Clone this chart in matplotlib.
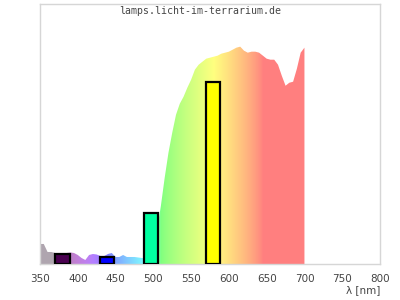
"""Lamp spectrum with peak bars, drawn in wavelength colours."""

import matplotlib

matplotlib.use("Agg")
import matplotlib.pyplot as plt
import numpy as np


# spectrum (relative height, 0..260)
wavelengths = list(range(350, 705, 5))
intensity = [
    20, 20, 12, 12, 11, 11, 11, 11, 11.5, 11,
    9, 6, 4, 9, 10, 9.5, 8, 8, 10, 11,
    7, 7, 9, 7, 7, 7, 6.5, 6, 6, 10,
    18, 35, 58, 86, 111, 131, 149, 160, 167, 176,
    184, 194, 199, 202, 205, 206, 207, 208, 210, 211,
    212, 214, 216, 217, 213, 211, 212, 212, 211, 208,
    205, 204, 204, 199, 188, 178, 181, 182, 195, 211,
    216,
]

# peak bars
peak_wl = [380, 439, 497, 579]
peak_height = [9.7, 7.3, 51, 182]
peak_colors = ["#4a0050", "#0000ff", "#00ffa0", "#ffff00"]

x_ticks = list(range(350, 850, 50))


def wavelength_rgb(wl: float) -> tuple[float, float, float]:
    """Approximate RGB for a wavelength (Bruton style), lightened with white."""
    if wl < 380:
        r, g, b = 0.38, 0.30, 0.38
    else:
        if wl < 440:
            r, g, b = (440 - wl) / 60, 0.0, 1.0
        elif wl < 490:
            r, g, b = 0.0, (wl - 440) / 50, 1.0
        elif wl < 510:
            r, g, b = 0.0, 1.0, (510 - wl) / 20
        elif wl < 580:
            r, g, b = (wl - 510) / 70, 1.0, 0.0
        elif wl < 645:
            r, g, b = 1.0, (645 - wl) / 65, 0.0
        else:
            r, g, b = 1.0, 0.0, 0.0
        factor = 0.3 + 0.7 * (wl - 380) / 40 if wl < 420 else 1.0
        r, g, b = ((c * factor) ** 0.8 if c > 0 else 0.0 for c in (r, g, b))
    return (0.5 + 0.5 * r, 0.5 + 0.5 * g, 0.5 + 0.5 * b)


fig = plt.figure(figsize=(4, 3), dpi=100)
ax = fig.add_axes((0.1, 0.12, 0.85, 0.868))

wl_fine = np.arange(wavelengths[0], wavelengths[-1] + 1, 1.0)
gradient = np.array([[wavelength_rgb(w) for w in wl_fine]])

poly = ax.fill_between(wavelengths, 0, intensity, color="none", linewidth=0)
img = ax.imshow(
    gradient,
    extent=(wavelengths[0], wavelengths[-1], 0, 260),
    aspect="auto",
    interpolation="bilinear",
    zorder=1,
)
img.set_clip_path(poly.get_paths()[0], transform=ax.transData)

ax.bar(
    peak_wl,
    peak_height,
    width=19,
    color=peak_colors,
    edgecolor="black",
    linewidth=1.6,
    zorder=3,
)

ax.set_xlim(350, 800)
ax.set_ylim(0, 260)
ax.set_xticks(x_ticks)
ax.set_yticks([])
ax.tick_params(axis="x", length=0, pad=7, labelsize=7.5, labelcolor="#444444")
for spine in ax.spines.values():
    spine.set_color("#d6d6d6")
    spine.set_linewidth(1.0)

fig.text(0.95, 0.016, "λ [nm]", ha="right", va="bottom", fontsize=7.5, color="#444444")
fig.text(
    0.5,
    1 - 11.5 / 300,
    "lamps.licht-im-terrarium.de",
    ha="center",
    va="center",
    fontsize=7.1,
    family="DejaVu Sans Mono",
    color="#444444",
)

fig.savefig("out.png", dpi=100)
